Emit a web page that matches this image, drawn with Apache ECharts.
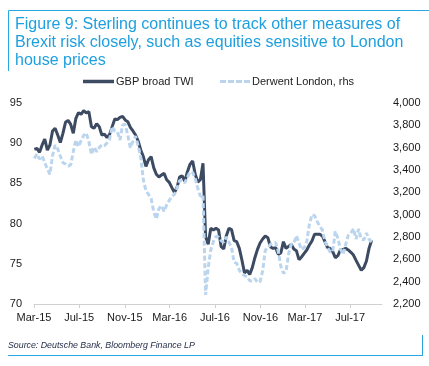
<!DOCTYPE html>
<html><head><meta charset="utf-8">
<script src="https://cdn.jsdelivr.net/npm/echarts@6/dist/echarts.min.js"></script>
<style>html,body{margin:0;padding:0;background:#fff}#c{width:429px;height:366px}</style>
</head><body><div id="c"></div>
<script>
// Tick labels of the date axis
const tickDates = ['2015-03-01','2015-07-01','2015-11-01','2016-03-01','2016-07-01','2016-11-01','2017-03-01','2017-07-01'];
const tickLabels = ['Mar-15','Jul-15','Nov-15','Mar-16','Jul-16','Nov-16','Mar-17','Jul-17'];
// Weekly observations starting on this date
const firstWeek = '2015-03-02';
// GBP broad trade-weighted index (left axis)
const gbpTWI = [
 89.24, 89.36, 88.86, 89.78, 90.52, 89.15, 89.78, 91.52, 91.85, 91.02,
 90.07, 91.23, 92.6, 92.84, 92.35, 91.23, 93.09, 93.8, 93.59, 94.05,
 93.76, 93.92, 92.06, 91.85, 92.43, 92.06, 91.02, 91.14, 90.69, 91.1,
 92.06, 93.01, 92.93, 93.22, 93.34, 92.89, 92.68, 91.97, 91.52, 91.02,
 90.27, 89.15, 88.33, 87.12, 87.95, 88.33, 86.96, 86.13, 85.8, 86.04,
 86.25, 85.46, 85.13, 84.47, 83.85, 84.51, 85.8, 85.92, 85.26, 86.46,
 87.37, 87.79, 86.13, 85.17, 85.46, 87.5, 78.37, 77.42, 79.41, 79.2,
 79.41, 79.2, 77.13, 76.84, 78.5, 79.41, 79.25, 77.88, 77.75, 76.92,
 75.47, 73.86, 74.19, 73.69, 74.52, 75.76, 76.8, 77.59, 78.08, 78.46,
 78.25, 77.09, 76.92, 77.01, 76.18, 76.34, 77.75, 76.92, 77.17, 77.42,
 76.84, 76.63, 75.51, 75.85, 76.3, 76.72, 77.34, 77.84, 78.67, 78.67,
 78.67, 78.46, 77.75, 77.01, 76.92, 76.51, 75.76, 76.01, 76.76, 76.76,
 76.92, 76.72, 76.43, 76.09, 75.43, 74.81, 74.19, 74.52, 75.35, 76.92,
 77.92
];
// Derwent London share price (right axis)
const derwent = [
 3504, 3543, 3498, 3525, 3466, 3409, 3361, 3528, 3624, 3588,
 3525, 3466, 3454, 3436, 3445, 3564, 3669, 3609, 3663, 3710,
 3731, 3654, 3540, 3606, 3564, 3600, 3624, 3618, 3642, 3675,
 3790, 3749, 3743, 3669, 3800, 3810, 3713, 3600, 3657, 3704,
 3618, 3516, 3313, 3215, 3182, 3146, 3027, 2961, 3054, 3081,
 3030, 3087, 3128, 3164, 3182, 3239, 3307, 3304, 3284, 3337,
 3385, 3379, 3322, 3236, 3164, 3176, 2281, 2525, 2684, 2758,
 2806, 2800, 2767, 2752, 2800, 2755, 2705, 2573, 2564, 2502,
 2472, 2454, 2445, 2409, 2406, 2427, 2394, 2400, 2496, 2681,
 2705, 2734, 2746, 2749, 2675, 2537, 2475, 2490, 2648, 2734,
 2743, 2812, 2746, 2687, 2705, 2758, 2913, 3000, 2991, 2940,
 2896, 2863, 2764, 2713, 2666, 2669, 2851, 2788, 2690, 2645,
 2734, 2815, 2833, 2875, 2782, 2872, 2779, 2776, 2836, 2782,
 2755
];
const seriesNames = ['GBP broad TWI', 'Derwent London, rhs'];
const titleText = 'Figure 9: Sterling continues to track other measures of\nBrexit risk closely, such as equities sensitive to London\nhouse prices';
const sourceText = 'Source: Deutsche Bank, Bloomberg Finance LP';

const DAY = 86400000;
const t0 = Date.parse(firstWeek + 'T00:00:00Z');
const weeks = gbpTWI.map((_, i) => t0 + 7 * i * DAY);
const tickTs = tickDates.map(d => Date.parse(d + 'T00:00:00Z'));

const FONT = '"Liberation Sans", Arial, sans-serif';
const BLUE = '#29A8E0';
const DARK = '#3C4A62';
const LIGHT = '#BBD5EF';
const DASH_ICON = 'path://M0,0h6v3h-6z M8,0h6v3h-6z M16,0h6v3h-6z M24,0h6v3h-6z';

const chart = echarts.init(document.getElementById('c'), null, {renderer: 'canvas'});
chart.setOption({
  animation: false,
  textStyle: {fontFamily: FONT},
  title: {
    text: titleText, left: 15, top: 16, padding: 0,
    textStyle: {fontSize: 16, fontWeight: 'normal', color: '#1E9FDF', lineHeight: 18, fontFamily: FONT}
  },
  legend: [
    {data: [{name: seriesNames[0], icon: 'rect'}], left: 83, top: 76, padding: 0, itemWidth: 31, itemHeight: 3.5, itemGap: 0,
     itemStyle: {color: DARK, borderWidth: 0},
     textStyle: {fontSize: 11, color: '#222', fontFamily: FONT, padding: [0, 0, 0, -3]}},
    {data: [{name: seriesNames[1], icon: DASH_ICON}], left: 220, top: 76, padding: 0, itemWidth: 30, itemHeight: 3, itemGap: 0,
     itemStyle: {color: LIGHT, borderWidth: 0},
     textStyle: {fontSize: 11, color: '#222', fontFamily: FONT, padding: [0, 0, 0, -3]}}
  ],
  grid: {left: 34, right: 47, top: 103, bottom: 62, containLabel: false},
  xAxis: {
    type: 'value', min: Date.UTC(2015, 2, 1), max: Date.UTC(2017, 8, 25),
    splitLine: {show: false},
    axisLine: {show: true, lineStyle: {color: '#D0D0D0', width: 1}},
    axisTick: {show: true, customValues: tickTs, length: 4, lineStyle: {color: '#D0D0D0'}},
    axisLabel: {customValues: tickTs, formatter: v => { const i = tickTs.indexOf(v); return i >= 0 ? tickLabels[i] : ''; },
                fontSize: 11, color: '#1a1a1a', margin: 8, fontFamily: FONT}
  },
  yAxis: [
    {type: 'value', min: 70, max: 95, interval: 5, position: 'left',
     axisLine: {show: false}, axisTick: {show: false}, splitLine: {show: false},
     axisLabel: {fontSize: 11, color: '#1a1a1a', margin: 12, fontFamily: FONT}},
    {type: 'value', min: 2200, max: 4000, interval: 200, position: 'right',
     axisLine: {show: false}, axisTick: {show: false}, splitLine: {show: false},
     axisLabel: {fontSize: 11, color: '#1a1a1a', margin: 11, fontFamily: FONT,
                 formatter: v => v.toLocaleString('en-US')}}
  ],
  series: [
    {name: seriesNames[0], type: 'line', yAxisIndex: 0, symbol: 'none', showSymbol: false,
     data: weeks.map((t, i) => [t, gbpTWI[i]]),
     lineStyle: {color: DARK, width: 3}, itemStyle: {color: DARK}},
    {name: seriesNames[1], type: 'line', yAxisIndex: 1, symbol: 'none', showSymbol: false,
     data: weeks.map((t, i) => [t, derwent[i]]),
     lineStyle: {color: LIGHT, width: 3, type: [5, 2.5]}, itemStyle: {color: LIGHT}}
  ],
  graphic: [
    {type: 'line', shape: {x1: 8.5, y1: 10.5, x2: 429, y2: 10.5}, style: {stroke: BLUE, lineWidth: 1}},
    {type: 'line', shape: {x1: 8.5, y1: 10.5, x2: 8.5, y2: 71}, style: {stroke: BLUE, lineWidth: 1}},
    {type: 'line', shape: {x1: 8, y1: 355.5, x2: 422.5, y2: 355.5}, style: {stroke: BLUE, lineWidth: 1}},
    {type: 'line', shape: {x1: 422.5, y1: 335, x2: 422.5, y2: 356}, style: {stroke: BLUE, lineWidth: 1}},
    {type: 'text', left: 8, top: 341, style: {text: sourceText, fontSize: 8.8, fontStyle: 'italic', fill: '#1F2A44', fontFamily: FONT}}
  ]
});
</script></body></html>
